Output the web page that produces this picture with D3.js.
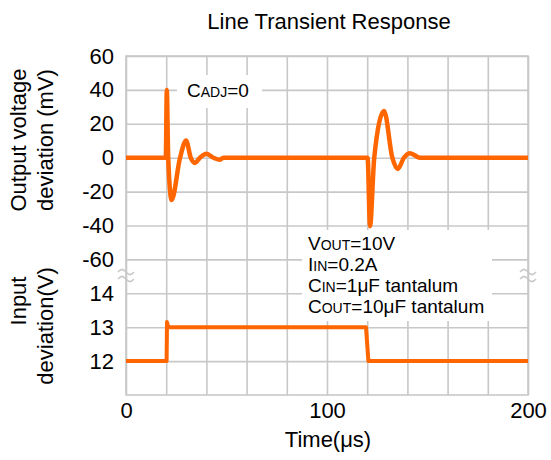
<!DOCTYPE html>
<html>
<head>
<meta charset="utf-8">
<script src="https://cdn.jsdelivr.net/npm/d3@7"></script>
<style>
  body { margin: 0; background: #fff; }
  text { font-family: "Liberation Sans", Arial, sans-serif; fill: #000; }
</style>
</head>
<body>
<div id="chart"></div>
<script>
const width = 551;
const height = 460;

// time axis (µs)
const timeGrid = [0, 20, 40, 60, 80, 100, 120, 140, 160, 180, 200];
const timeLabels = [0, 100, 200];

// tick labels
const outTicks = [60, 40, 20, 0, -20, -40, -60];
const inTicks = [14, 13, 12];

// output voltage deviation (mV)
const outTime = [0, 19.8, 20.3, 21, 22.7, 26.9, 29.9, 32.2, 34.3, 36.8, 40.1, 43.5, 46.8, 48.4,
  120.2, 121.4, 123.5, 128.4, 132.5, 135.2, 138.3, 141.3, 146.3, 200];
const outMv = [0, 0, 40, 0, -25, 0, 10.2, 0, -3.1, 0, 2.3, 0, -1.2, 0,
  0, -40.4, 0, 27.6, 0, -6.7, 0, 2.6, 0, 0];

// input voltage (V)
const inTime = [0, 20.2, 20.4, 21, 119.4, 120.6, 200];
const inV = [12, 12, 13.15, 13, 13, 12, 12];

const orange = "#ff6600";
const gridColor = "#c8c8c8";

const plotLeft = 126, plotRight = 528, plotTop = 56, plotBottom = 395;
const row = (plotBottom - plotTop) / 10;

const svg = d3
  .select("#chart")
  .append("svg")
  .attr("width", width)
  .attr("height", height);

const x = d3.scaleLinear().domain([0, 200]).range([plotLeft, plotRight]);
const yOut = d3.scaleLinear().domain([-60, 60]).range([plotTop + 6 * row, plotTop]);
const yIn = d3.scaleLinear().domain([11, 14]).range([plotBottom, plotBottom - 3 * row]);

// x axis + vertical grid
const xAxis = d3
  .axisBottom(x)
  .tickValues(timeGrid)
  .tickSize(-(plotBottom - plotTop))
  .tickPadding(7)
  .tickFormat((d) => (timeLabels.includes(d) ? d : ""));

svg.append("g").attr("transform", `translate(0, ${plotBottom})`).call(xAxis);

// y axes + horizontal grid
const yOutAxis = d3
  .axisLeft(yOut)
  .tickValues(outTicks)
  .tickSize(-(plotRight - plotLeft))
  .tickPadding(12)
  .tickFormat((d) => String(d));

svg.append("g").attr("transform", `translate(${plotLeft}, 0)`).call(yOutAxis);

const yInAxis = d3
  .axisLeft(yIn)
  .tickValues(inTicks)
  .tickSize(-(plotRight - plotLeft))
  .tickPadding(12)
  .tickFormat((d) => String(d));

svg.append("g").attr("transform", `translate(${plotLeft}, 0)`).call(yInAxis);

svg.selectAll(".domain").remove();
svg.selectAll(".tick line").attr("stroke", gridColor).attr("stroke-width", 1.6);
svg
  .selectAll(".tick text")
  .style("font-family", '"Liberation Sans", Arial, sans-serif')
  .style("font-size", "22px")
  .attr("fill", "#000");

// plot frame
svg
  .append("rect")
  .attr("x", plotLeft)
  .attr("y", plotTop)
  .attr("width", plotRight - plotLeft)
  .attr("height", plotBottom - plotTop)
  .attr("fill", "none")
  .attr("stroke", gridColor)
  .attr("stroke-width", 1.6);

// axis break marks
function breakMark(cx, cy) {
  const pts = d3.range(0, 1.001, 0.05).map((u) => [cx - 8 + u * 16, cy - 2.5 * Math.sin(u * 2 * Math.PI)]);
  const line = d3.line();
  [cy, cy + 7].forEach((yy) => {
    svg
      .append("path")
      .attr("d", line(pts.map((p) => [p[0], p[1] - cy + yy])))
      .attr("fill", "none")
      .attr("stroke", gridColor)
      .attr("stroke-width", 1.6);
  });
}
breakMark(plotLeft, 272);
breakMark(plotRight, 272);

// text boxes
svg.append("rect").attr("x", 177).attr("y", 75).attr("width", 85).attr("height", 33).attr("fill", "#fff");
const cadj = svg.append("text").attr("x", 187).attr("y", 97).style("font-size", "19px");
cadj.append("tspan").text("C");
cadj.append("tspan").style("font-size", "14px").text("ADJ");
cadj.append("tspan").text("=0");

svg.append("rect").attr("x", 302).attr("y", 230).attr("width", 190).attr("height", 91).attr("fill", "#fff");
const params = [
  ["V", "OUT", "=10V"],
  ["I", "IN", "=0.2A"],
  ["C", "IN", "=1μF tantalum"],
  ["C", "OUT", "=10μF tantalum"],
];
params.forEach((p, i) => {
  const t = svg.append("text").attr("x", 308).attr("y", 250 + i * 21).style("font-size", "19px");
  t.append("tspan").text(p[0]);
  t.append("tspan").style("font-size", "14px").text(p[1]);
  t.append("tspan").text(p[2]);
});

// data lines
const outLine = d3
  .line()
  .x((d, i) => x(outTime[i]))
  .y((d) => yOut(d))
  .curve(d3.curveMonotoneX);

svg
  .append("path")
  .attr("d", outLine(outMv))
  .attr("fill", "none")
  .attr("stroke", orange)
  .attr("stroke-width", 4.5)
  .attr("stroke-linejoin", "round");

const inLine = d3
  .line()
  .x((d, i) => x(inTime[i]))
  .y((d) => yIn(d));

svg
  .append("path")
  .attr("d", inLine(inV))
  .attr("fill", "none")
  .attr("stroke", orange)
  .attr("stroke-width", 4)
  .attr("stroke-linejoin", "round");

// titles
svg
  .append("text")
  .attr("x", 329)
  .attr("y", 29)
  .style("text-anchor", "middle")
  .style("font-size", "22px")
  .text("Line Transient Response");

svg
  .append("text")
  .attr("x", 328)
  .attr("y", 447)
  .style("text-anchor", "middle")
  .style("font-size", "22px")
  .text("Time(μs)");

[
  ["Output voltage", 26, 140],
  ["deviation (mV)", 53, 140],
  ["Input", 26, 301],
  ["deviation(V)", 53, 326],
].forEach(([label, tx, ty]) => {
  svg
    .append("text")
    .attr("transform", `translate(${tx}, ${ty}) rotate(-90)`)
    .style("text-anchor", "middle")
    .style("font-size", "22px")
    .text(label);
});
</script>
</body>
</html>
